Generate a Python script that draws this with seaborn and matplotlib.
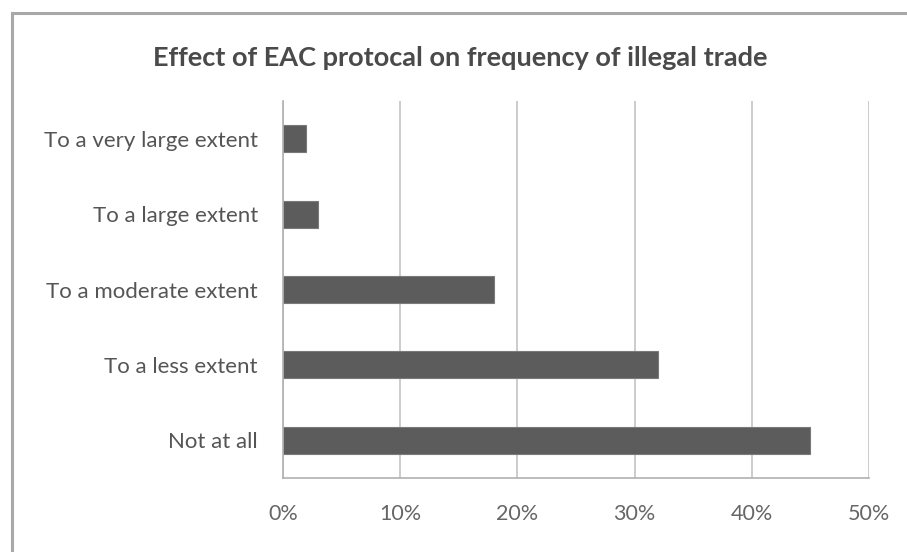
import matplotlib
matplotlib.use("Agg")
import matplotlib.pyplot as plt
from matplotlib.patches import Rectangle
import seaborn as sns
import pandas as pd

categories = ["To a very large extent", "To a large extent", "To a moderate extent",
              "To a less extent", "Not at all"]
percent = [2, 3, 18, 32, 45]
x_ticks = [0, 10, 20, 30, 40, 50]
x_tick_labels = ["0%", "10%", "20%", "30%", "40%", "50%"]
title = "Effect of EAC protocal on frequency of illegal trade"

df = pd.DataFrame({"category": categories, "percent": percent})

sns.set_theme(style="white")
plt.rcParams["font.family"] = ["Lato", "DejaVu Sans"]

fig = plt.figure(figsize=(9.07, 5.52), dpi=100)
fig.patch.set_facecolor("white")

# outer chart frame (runs past the right and bottom edges)
fig.patches.append(Rectangle((0.013, -0.2), 1.2, 1.176, transform=fig.transFigure,
                             fill=False, edgecolor="#a8a8a8", linewidth=2.2))

ax = fig.add_axes([0.312, 0.134, 0.646, 0.683])
sns.barplot(data=df, y="category", x="percent", order=categories, orient="h",
            color="#5c5c5c", width=0.36, saturation=1, ax=ax,
            edgecolor="#7a7a7a", linewidth=0.8)

ax.set_xlim(0, 50)
ax.set_xticks(x_ticks)
ax.set_xticklabels(x_tick_labels)
ax.grid(axis="x", color="#c4c4c4", linewidth=1.2)
ax.set_axisbelow(True)
ax.set_xlabel("")
ax.set_ylabel("")

for side in ["top", "right"]:
    ax.spines[side].set_visible(False)
for side in ["left", "bottom"]:
    ax.spines[side].set_color("#b0b0b0")
    ax.spines[side].set_linewidth(1.2)

ax.tick_params(axis="y", length=0, pad=18, labelsize=16, labelcolor="#555555")
ax.tick_params(axis="x", length=0, pad=19, labelsize=15.5, labelcolor="#666666")

fig.text(0.507, 0.895, title, ha="center", va="center", fontsize=19.5,
         fontweight="bold", color="#4a4a4a")

fig.savefig("out.png", dpi=100, facecolor="white")
